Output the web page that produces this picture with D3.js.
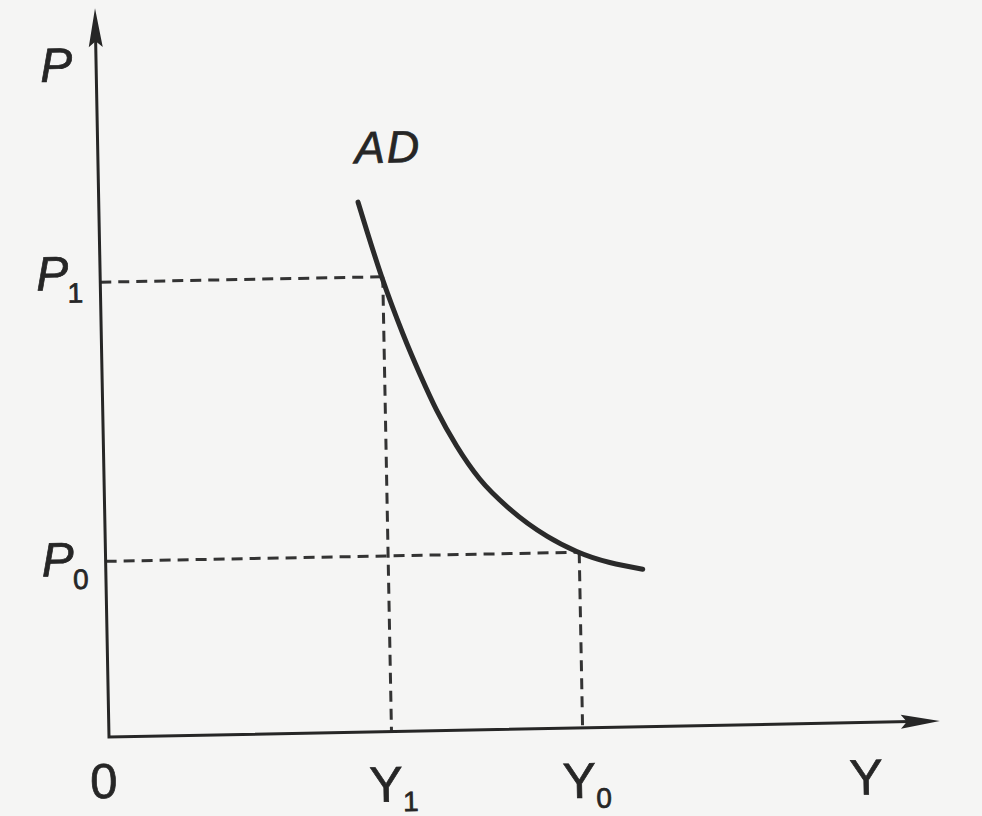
<!DOCTYPE html>
<html><head><meta charset="utf-8">
<script src="https://cdn.jsdelivr.net/npm/d3@7"></script>
<style>html,body{margin:0;padding:0;background:#f5f5f4;} svg{display:block}</style>
</head><body>
<svg id="c" width="982" height="816"></svg>
<script>
// AD curve: output (Y) and price level (P), in chart units
const adOutput = [31.2, 33.9, 36.3, 38.3, 40.2, 42.5, 45.2, 48.8, 53.2, 56.7, 64.6];
const adPrice  = [72.7, 62.3, 54.5, 48.8, 43.9, 39.0, 34.4, 30.15, 26.35, 24.2, 21.6];
// reference levels
const priceNames  = ["P", "P"];
const priceSubs   = ["1", "0"];
const priceValues = [62.4, 24.1];
const outputNames  = ["Y", "Y"];
const outputSubs   = ["1", "0"];
const outputValues = [34, 57];
const axisLabels = { y: "P", x: "Y", origin: "0" };
const curveLabel = "AD";

const svg = d3.select("#c");
const x = d3.scaleLinear().domain([0, 100]).range([109, 940]);
const y = d3.scaleLinear().domain([0, 100]).range([737, 8]);
const ink = "#262626";
const font = "'Liberation Sans', Arial, sans-serif";

const g = svg.append("g").attr("transform", `rotate(-1.1, ${x(0)}, ${y(0)})`);

// dashed guide lines
const dash = g.append("g").attr("stroke", "#333").attr("stroke-width", 3)
  .attr("stroke-dasharray", "11,7").attr("fill", "none");
priceValues.forEach((p, i) => {
  dash.append("line").attr("x1", x(0)).attr("x2", x(outputValues[i]))
    .attr("y1", y(p)).attr("y2", y(p));
  dash.append("line").attr("x1", x(outputValues[i])).attr("x2", x(outputValues[i]))
    .attr("y1", y(p)).attr("y2", y(0));
});

// axes
const axes = g.append("g").attr("stroke", ink).attr("stroke-width", 3).attr("fill", "none");
axes.append("path").attr("d", `M${x(0)},${y(100) + 30}L${x(0)},${y(0)}L${x(100) - 30},${y(0)}`)
  .attr("stroke-linejoin", "miter");
// arrowheads
const ah = 39, hw = 7, notch = 6;
g.append("path").attr("fill", ink)
  .attr("d", `M${x(0)},${y(100)}L${x(0) + hw},${y(100) + ah}L${x(0)},${y(100) + ah - notch}L${x(0) - hw},${y(100) + ah}Z`);
g.append("path").attr("fill", ink)
  .attr("d", `M${x(100)},${y(0)}L${x(100) - ah},${y(0) - hw}L${x(100) - ah + notch},${y(0)}L${x(100) - ah},${y(0) + hw}Z`);

// AD curve
const pts = adOutput.map((v, i) => [v, adPrice[i]]);
g.append("path").datum(pts)
  .attr("d", d3.line().x(d => x(d[0])).y(d => y(d[1])).curve(d3.curveMonotoneX))
  .attr("fill", "none").attr("stroke", "#2a2a2a").attr("stroke-width", 5).attr("stroke-linecap", "round");

// labels
const txt = g.append("g").attr("fill", ink).attr("stroke", ink).attr("stroke-width", 0.7)
  .attr("font-family", font);
txt.append("text").attr("x", x(0) - 40).attr("y", y(90)).attr("text-anchor", "middle")
  .attr("font-size", 48).attr("font-style", "italic").text(axisLabels.y);
txt.append("text").attr("x", x(0) - 6).attr("y", y(0) + 61).attr("text-anchor", "middle")
  .attr("font-size", 49).text(axisLabels.origin);
txt.append("text").attr("x", x(91)).attr("y", y(0) + 72).attr("text-anchor", "middle")
  .attr("font-size", 50).text(axisLabels.x);
txt.append("text").attr("x", x(adOutput[0]) + 31).attr("y", y(adPrice[0]) - 39).attr("text-anchor", "middle")
  .attr("font-size", 45).attr("font-style", "italic").attr("letter-spacing", 2).text(curveLabel);

const pOff = [7, 14];
priceValues.forEach((p, i) => {
  const t = txt.append("text").attr("x", x(0) - 64).attr("y", y(p) + pOff[i]);
  t.append("tspan").attr("font-size", 48).attr("font-style", "italic").text(priceNames[i]);
  t.append("tspan").attr("font-size", 28).attr("dx", -1).attr("dy", 13).text(priceSubs[i]);
});
const yOff = [-23, -21];
outputValues.forEach((v, i) => {
  const t = txt.append("text").attr("x", x(v) + yOff[i]).attr("y", y(0) + 70);
  t.append("tspan").attr("font-size", 50).text(outputNames[i]);
  t.append("tspan").attr("font-size", 28).attr("dx", 0).attr("dy", 10).text(outputSubs[i]);
});
</script>
</body></html>
